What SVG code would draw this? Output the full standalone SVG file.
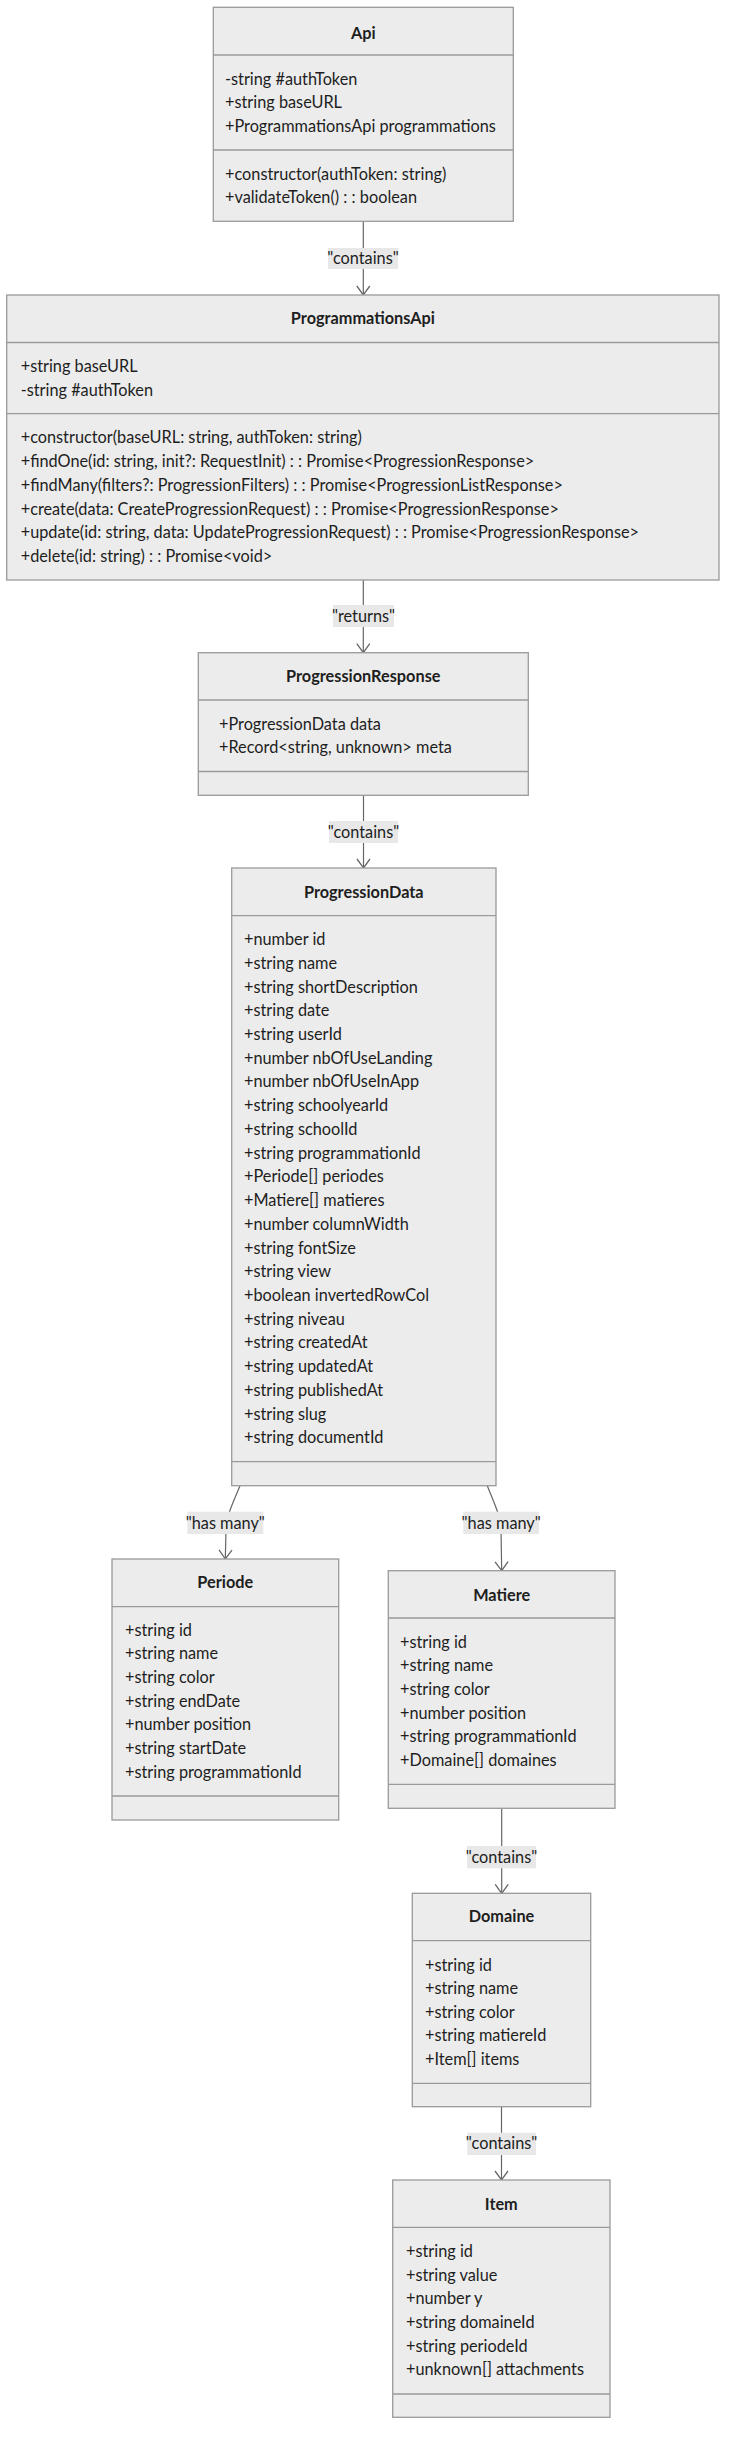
<svg xmlns="http://www.w3.org/2000/svg" width="735" height="2452" viewBox="0 0 735 2452">
<defs>
<style>
.box{fill:#ECECEC;stroke:#9A9A9A;stroke-width:1.3}
.sep{stroke:#9A9A9A;stroke-width:1.3}
.t{font-family:Lato,"Liberation Sans",sans-serif;font-size:16.3px;fill:#1E1E1E}
.title{font-family:Lato,"Liberation Sans",sans-serif;font-size:16.3px;font-weight:bold;fill:#1E1E1E;text-anchor:middle}
.edge{fill:none;stroke:#666;stroke-width:1.2}
.lbg{fill:#E8E8E8}
.lbl{font-family:Lato,"Liberation Sans",sans-serif;font-size:16.3px;fill:#1E1E1E;text-anchor:middle}
</style>
<marker id="arr" viewBox="0 0 20 20" refX="10" refY="10" markerWidth="20" markerHeight="20" markerUnits="userSpaceOnUse" orient="auto">
<path d="M1,3.5 L10,10 L1,16.5" fill="none" stroke="#666" stroke-width="1.3"/>
</marker>
</defs>
<rect width="735" height="2452" fill="#FFFFFF"/>

<g id="connectors">
<path class="edge" d="M363.3,221.3 L363.3,295" marker-end="url(#arr)"/>
<rect class="lbg" x="328" y="248" width="70" height="21"/>
<text class="lbl" x="363" y="264">"contains"</text>

<path class="edge" d="M363.3,580 L363.3,652.7" marker-end="url(#arr)"/>
<rect class="lbg" x="333" y="605" width="61" height="22"/>
<text class="lbl" x="363.5" y="621.5">"returns"</text>

<path class="edge" d="M363.5,795.3 L363.5,868" marker-end="url(#arr)"/>
<rect class="lbg" x="329" y="821" width="69" height="22"/>
<text class="lbl" x="363.5" y="837.5">"contains"</text>

<path class="edge" d="M240,1485.7 C233,1503 226.5,1515 226,1530 L225.3,1559" marker-end="url(#arr)"/>
<rect class="lbg" x="187.3" y="1511.7" width="76" height="22.3"/>
<text class="lbl" x="225.3" y="1528.5">"has many"</text>

<path class="edge" d="M487.3,1485.7 C494,1503 500.5,1515 501,1530 L501.7,1570.7" marker-end="url(#arr)"/>
<rect class="lbg" x="463.3" y="1511.7" width="75.7" height="22.3"/>
<text class="lbl" x="501.2" y="1528.5">"has many"</text>

<path class="edge" d="M501.7,1808.3 L501.7,1893.3" marker-end="url(#arr)"/>
<rect class="lbg" x="467" y="1846" width="69" height="22.3"/>
<text class="lbl" x="501.5" y="1862.5">"contains"</text>

<path class="edge" d="M501.5,2106.7 L501.5,2180" marker-end="url(#arr)"/>
<rect class="lbg" x="467.3" y="2132.7" width="68.7" height="22.3"/>
<text class="lbl" x="501.6" y="2149.3">"contains"</text>
</g>

<g id="Api">
<rect class="box" x="213.3" y="7.3" width="300" height="214"/>
<line class="sep" x1="213.3" y1="55" x2="513.3" y2="55"/>
<line class="sep" x1="213.3" y1="150" x2="513.3" y2="150"/>
<text class="title" x="363.3" y="38.5">Api</text>
<text class="t" x="225" y="84.5">-string #authToken</text>
<text class="t" x="225" y="108.3">+string baseURL</text>
<text class="t" x="225" y="132">+ProgrammationsApi programmations</text>
<text class="t" x="225" y="179.5">+constructor(authToken: string)</text>
<text class="t" x="225" y="203.3">+validateToken() : : boolean</text>
</g>

<g id="ProgrammationsApi">
<rect class="box" x="6.7" y="295" width="712.3" height="285"/>
<line class="sep" x1="6.7" y1="342.5" x2="719" y2="342.5"/>
<line class="sep" x1="6.7" y1="413.7" x2="719" y2="413.7"/>
<text class="title" x="362.9" y="324">ProgrammationsApi</text>
<text class="t" x="20.7" y="372">+string baseURL</text>
<text class="t" x="20.7" y="395.8">-string #authToken</text>
<text class="t" x="20.7" y="443.3">+constructor(baseURL: string, authToken: string)</text>
<text class="t" x="20.7" y="467">+findOne(id: string, init?: RequestInit) : : Promise&lt;ProgressionResponse&gt;</text>
<text class="t" x="20.7" y="490.8">+findMany(filters?: ProgressionFilters) : : Promise&lt;ProgressionListResponse&gt;</text>
<text class="t" x="20.7" y="514.5">+create(data: CreateProgressionRequest) : : Promise&lt;ProgressionResponse&gt;</text>
<text class="t" x="20.7" y="538.3">+update(id: string, data: UpdateProgressionRequest) : : Promise&lt;ProgressionResponse&gt;</text>
<text class="t" x="20.7" y="562">+delete(id: string) : : Promise&lt;void&gt;</text>
</g>

<g id="ProgressionResponse">
<rect class="box" x="198.3" y="652.7" width="330" height="142.6"/>
<line class="sep" x1="198.3" y1="700" x2="528.3" y2="700"/>
<line class="sep" x1="198.3" y1="771.5" x2="528.3" y2="771.5"/>
<text class="title" x="363.3" y="682">ProgressionResponse</text>
<text class="t" x="219" y="729.5">+ProgressionData data</text>
<text class="t" x="219" y="753.3">+Record&lt;string, unknown&gt; meta</text>
</g>

<g id="ProgressionData">
<rect class="box" x="231.7" y="868" width="264.3" height="617.7"/>
<line class="sep" x1="231.7" y1="915.7" x2="496" y2="915.7"/>
<line class="sep" x1="231.7" y1="1461.6" x2="496" y2="1461.6"/>
<text class="title" x="363.8" y="897.5">ProgressionData</text>
<text class="t" x="244">
<tspan x="244" y="945">+number id</tspan>
<tspan x="244" y="968.7">+string name</tspan>
<tspan x="244" y="992.5">+string shortDescription</tspan>
<tspan x="244" y="1016.2">+string date</tspan>
<tspan x="244" y="1039.9">+string userId</tspan>
<tspan x="244" y="1063.7">+number nbOfUseLanding</tspan>
<tspan x="244" y="1087.4">+number nbOfUseInApp</tspan>
<tspan x="244" y="1111.1">+string schoolyearId</tspan>
<tspan x="244" y="1134.8">+string schoolId</tspan>
<tspan x="244" y="1158.6">+string programmationId</tspan>
<tspan x="244" y="1182.3">+Periode[] periodes</tspan>
<tspan x="244" y="1206">+Matiere[] matieres</tspan>
<tspan x="244" y="1229.8">+number columnWidth</tspan>
<tspan x="244" y="1253.5">+string fontSize</tspan>
<tspan x="244" y="1277.2">+string view</tspan>
<tspan x="244" y="1301">+boolean invertedRowCol</tspan>
<tspan x="244" y="1324.7">+string niveau</tspan>
<tspan x="244" y="1348.4">+string createdAt</tspan>
<tspan x="244" y="1372.2">+string updatedAt</tspan>
<tspan x="244" y="1395.9">+string publishedAt</tspan>
<tspan x="244" y="1419.6">+string slug</tspan>
<tspan x="244" y="1443.3">+string documentId</tspan>
</text>
</g>

<g id="Periode">
<rect class="box" x="112" y="1559" width="226.7" height="261"/>
<line class="sep" x1="112" y1="1606.7" x2="338.7" y2="1606.7"/>
<line class="sep" x1="112" y1="1796" x2="338.7" y2="1796"/>
<text class="title" x="225.3" y="1588.2">Periode</text>
<text class="t" x="125">
<tspan x="125" y="1635.5">+string id</tspan>
<tspan x="125" y="1659.2">+string name</tspan>
<tspan x="125" y="1682.9">+string color</tspan>
<tspan x="125" y="1706.6">+string endDate</tspan>
<tspan x="125" y="1730.3">+number position</tspan>
<tspan x="125" y="1754">+string startDate</tspan>
<tspan x="125" y="1777.7">+string programmationId</tspan>
</text>
</g>

<g id="Matiere">
<rect class="box" x="388.3" y="1570.7" width="226.7" height="237.6"/>
<line class="sep" x1="388.3" y1="1618" x2="615" y2="1618"/>
<line class="sep" x1="388.3" y1="1784.3" x2="615" y2="1784.3"/>
<text class="title" x="501.7" y="1600.5">Matiere</text>
<text class="t" x="400">
<tspan x="400" y="1647.5">+string id</tspan>
<tspan x="400" y="1671.2">+string name</tspan>
<tspan x="400" y="1694.9">+string color</tspan>
<tspan x="400" y="1718.6">+number position</tspan>
<tspan x="400" y="1742.3">+string programmationId</tspan>
<tspan x="400" y="1766">+Domaine[] domaines</tspan>
</text>
</g>

<g id="Domaine">
<rect class="box" x="412.3" y="1893.3" width="178.4" height="213.4"/>
<line class="sep" x1="412.3" y1="1940.7" x2="590.7" y2="1940.7"/>
<line class="sep" x1="412.3" y1="2083.3" x2="590.7" y2="2083.3"/>
<text class="title" x="501.5" y="1922.2">Domaine</text>
<text class="t" x="425">
<tspan x="425" y="1970.5">+string id</tspan>
<tspan x="425" y="1994.1">+string name</tspan>
<tspan x="425" y="2017.7">+string color</tspan>
<tspan x="425" y="2041.3">+string matiereId</tspan>
<tspan x="425" y="2064.9">+Item[] items</tspan>
</text>
</g>

<g id="Item">
<rect class="box" x="392.7" y="2180" width="217.3" height="237.3"/>
<line class="sep" x1="392.7" y1="2227.3" x2="610" y2="2227.3"/>
<line class="sep" x1="392.7" y1="2394" x2="610" y2="2394"/>
<text class="title" x="501.3" y="2209.5">Item</text>
<text class="t" x="406">
<tspan x="406" y="2257.2">+string id</tspan>
<tspan x="406" y="2280.8">+string value</tspan>
<tspan x="406" y="2304.4">+number y</tspan>
<tspan x="406" y="2328">+string domaineId</tspan>
<tspan x="406" y="2351.6">+string periodeId</tspan>
<tspan x="406" y="2375.2">+unknown[] attachments</tspan>
</text>
</g>
</svg>
